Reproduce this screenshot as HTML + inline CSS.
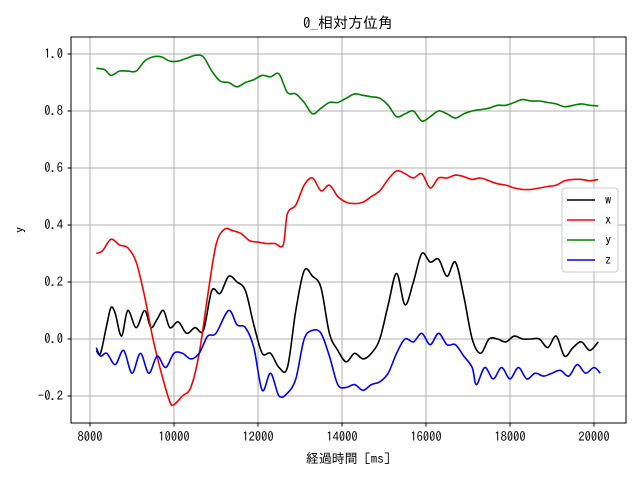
<!DOCTYPE html>
<html><head><meta charset="utf-8">
<style>
body{margin:0;background:#fff;}
svg text{font-family:"IPAGothic","Liberation Sans","Noto Sans CJK JP",sans-serif;}
</style></head>
<body>
<svg id="chart" width="640" height="480" viewBox="0 0 640 480" xmlns="http://www.w3.org/2000/svg">
<rect width="640" height="480" fill="#fff"/>
<g id="grid"></g>
<g id="series"></g>
<rect x="71" y="37" width="555" height="386" fill="none" stroke="#000" stroke-width="1"/>
<g id="ticks"></g>
<text x="348" y="28" font-size="15" text-anchor="middle">0_相対方位角</text>
<text x="348" y="463" font-size="13" text-anchor="middle">経過時間 [ms]</text>
<text x="24" y="230" font-size="13" text-anchor="middle" transform="rotate(-90 24 230)">y</text>
<g id="legend"></g>
</svg>
<script>
const xTicks=[8000,10000,12000,14000,16000,18000,20000];
const yTicks=[-0.2,0.0,0.2,0.4,0.6,0.8,1.0];
const seriesNames=["w","x","y","z"];
const seriesColors=["#000000","#ff0000","#008000","#0000ff"];
const wT=[8150,8250,8400,8500,8600,8750,8900,9100,9300,9450,9600,9750,9900,10100,10300,10500,10700,10900,11100,11300,11500,11700,11900,12100,12300,12500,12700,12900,13100,13300,13500,13700,13900,14100,14300,14500,14700,14900,15100,15300,15500,15700,15900,16100,16300,16500,16700,16900,17100,17300,17500,17700,17900,18100,18300,18500,18700,18900,19100,19300,19500,19700,19900,20100];
const wV=[-0.04,-0.05,0.05,0.11,0.09,0.01,0.1,0.04,0.1,0.04,0.07,0.1,0.04,0.06,0.02,0.04,0.03,0.17,0.16,0.22,0.2,0.17,0.05,-0.05,-0.05,-0.1,-0.1,0.1,0.24,0.22,0.18,0.02,-0.04,-0.08,-0.05,-0.07,-0.05,0.0,0.12,0.23,0.12,0.2,0.3,0.27,0.28,0.22,0.27,0.15,0.0,-0.05,0.0,0.0,-0.01,0.01,0.0,0.0,0.0,-0.03,0.01,-0.06,-0.03,-0.01,-0.04,-0.01];
const xT=[8150,8300,8500,8700,8900,9100,9300,9500,9700,9900,10000,10200,10400,10600,10800,11000,11200,11400,11600,11800,12000,12200,12400,12600,12700,12900,13100,13300,13500,13700,13900,14100,14300,14500,14700,14900,15100,15300,15500,15700,15900,16100,16300,16500,16700,16900,17100,17300,17500,17700,17900,18100,18300,18500,18700,18900,19100,19300,19500,19700,19900,20100];
const xV=[0.3,0.31,0.35,0.33,0.32,0.27,0.15,0.0,-0.12,-0.22,-0.23,-0.2,-0.17,-0.05,0.15,0.33,0.385,0.38,0.37,0.345,0.34,0.335,0.335,0.33,0.44,0.47,0.54,0.565,0.52,0.54,0.5,0.48,0.475,0.48,0.5,0.52,0.56,0.59,0.58,0.565,0.58,0.53,0.565,0.565,0.575,0.57,0.56,0.565,0.555,0.545,0.54,0.53,0.525,0.525,0.53,0.535,0.54,0.555,0.56,0.56,0.555,0.56];
const yT=[8150,8350,8500,8700,8900,9100,9300,9500,9700,9900,10100,10300,10500,10700,10900,11100,11300,11500,11700,11900,12100,12300,12500,12700,12900,13100,13300,13500,13700,13900,14100,14300,14500,14700,14900,15100,15300,15500,15700,15900,16100,16300,16500,16700,16900,17100,17300,17500,17700,17900,18100,18300,18500,18700,18900,19100,19300,19500,19700,19900,20100];
const yV=[0.95,0.945,0.925,0.94,0.94,0.94,0.975,0.99,0.99,0.975,0.975,0.985,0.995,0.99,0.94,0.905,0.9,0.885,0.9,0.91,0.925,0.92,0.93,0.865,0.86,0.83,0.79,0.81,0.83,0.83,0.845,0.86,0.855,0.85,0.845,0.82,0.78,0.79,0.8,0.765,0.78,0.8,0.79,0.775,0.79,0.8,0.805,0.81,0.82,0.82,0.83,0.84,0.835,0.835,0.83,0.825,0.815,0.82,0.825,0.82,0.818];
const zT=[8150,8250,8400,8600,8800,9000,9200,9400,9600,9800,10000,10200,10400,10600,10800,11000,11300,11500,11700,11900,12100,12300,12500,12700,12900,13100,13300,13500,13700,13900,14100,14300,14500,14700,14900,15100,15300,15500,15700,15900,16100,16300,16500,16700,16900,17100,17200,17400,17600,17800,18000,18200,18400,18600,18800,19000,19200,19400,19600,19800,20000,20150];
const zV=[-0.03,-0.06,-0.05,-0.09,-0.04,-0.12,-0.05,-0.12,-0.06,-0.1,-0.05,-0.05,-0.07,-0.05,0.01,0.02,0.1,0.05,0.04,-0.03,-0.18,-0.12,-0.2,-0.19,-0.14,0.0,0.03,0.02,-0.06,-0.16,-0.17,-0.16,-0.18,-0.16,-0.15,-0.12,-0.05,0.0,-0.01,0.02,-0.02,0.02,-0.02,-0.02,-0.06,-0.1,-0.16,-0.1,-0.14,-0.1,-0.14,-0.1,-0.14,-0.12,-0.13,-0.12,-0.11,-0.13,-0.09,-0.12,-0.1,-0.12];

const NS="http://www.w3.org/2000/svg";
const X=t=>90+(t-8000)/2000*84;
const Y=v=>339-v/0.2*57;
function mk(tag,attrs,parent){const e=document.createElementNS(NS,tag);for(const k in attrs)e.setAttribute(k,attrs[k]);parent.appendChild(e);return e;}
function smooth(pts){
  let d='M'+pts[0][0].toFixed(1)+','+pts[0][1].toFixed(1);
  for(let i=0;i<pts.length-1;i++){
    const p0=pts[Math.max(0,i-1)],p1=pts[i],p2=pts[i+1],p3=pts[Math.min(pts.length-1,i+2)];
    const c1=[p1[0]+(p2[0]-p0[0])/6,p1[1]+(p2[1]-p0[1])/6];
    const c2=[p2[0]-(p3[0]-p1[0])/6,p2[1]-(p3[1]-p1[1])/6];
    d+=' C'+c1[0].toFixed(1)+','+c1[1].toFixed(1)+' '+c2[0].toFixed(1)+','+c2[1].toFixed(1)+' '+p2[0].toFixed(1)+','+p2[1].toFixed(1);
  }
  return d;
}
const grid=document.getElementById('grid'),ticks=document.getElementById('ticks');
xTicks.forEach(t=>{
  const l=mk('line',{x1:X(t),x2:X(t),y1:37,y2:423,stroke:'#b0b0b0','stroke-width':1},grid);
  
  
  const tk=mk('line',{x1:X(t),x2:X(t),y1:423,y2:426.5,stroke:'#000'},ticks);
  
  
  const tx=mk('text',{x:X(t),y:441,'font-size':12.5,'text-anchor':'middle'},ticks);
  tx.textContent=String(t);
  
  
});
yTicks.forEach(v=>{
  const l=mk('line',{x1:71,x2:626,y1:Y(v),y2:Y(v),stroke:'#b0b0b0','stroke-width':1},grid);
  
  
  const tk=mk('line',{x1:67.5,x2:71,y1:Y(v),y2:Y(v),stroke:'#000'},ticks);
  
  
  const tx=mk('text',{x:63,y:Y(v)+4,'font-size':12.5,'text-anchor':'end'},ticks);
  tx.textContent=(v<0?'\u2212':'')+Math.abs(v).toFixed(1);
  
  
});
const sg=document.getElementById('series');
[[wT,wV],[xT,xV],[yT,yV],[zT,zV]].forEach((s,i)=>{
  const pts=s[0].map((t,j)=>[X(t),Y(s[1][j])]);
  const p=mk('path',{d:smooth(pts),fill:'none',stroke:seriesColors[i],'stroke-width':1.6,'stroke-linejoin':'round'},sg);
  
  
});
const lg=document.getElementById('legend');
const box=mk('rect',{x:562,y:188,width:56,height:84,rx:3,fill:'#fff','fill-opacity':0.8,stroke:'#cccccc'},lg);


seriesNames.forEach((n,i)=>{
  const yy=200+i*20;
  const l=mk('line',{x1:567,x2:595,y1:yy,y2:yy,stroke:seriesColors[i],'stroke-width':1.6},lg);
  
  
  const t=mk('text',{x:605,y:yy+4,'font-size':12.5},lg);
  t.textContent=n;
  
  
});
</script>
</body></html>
